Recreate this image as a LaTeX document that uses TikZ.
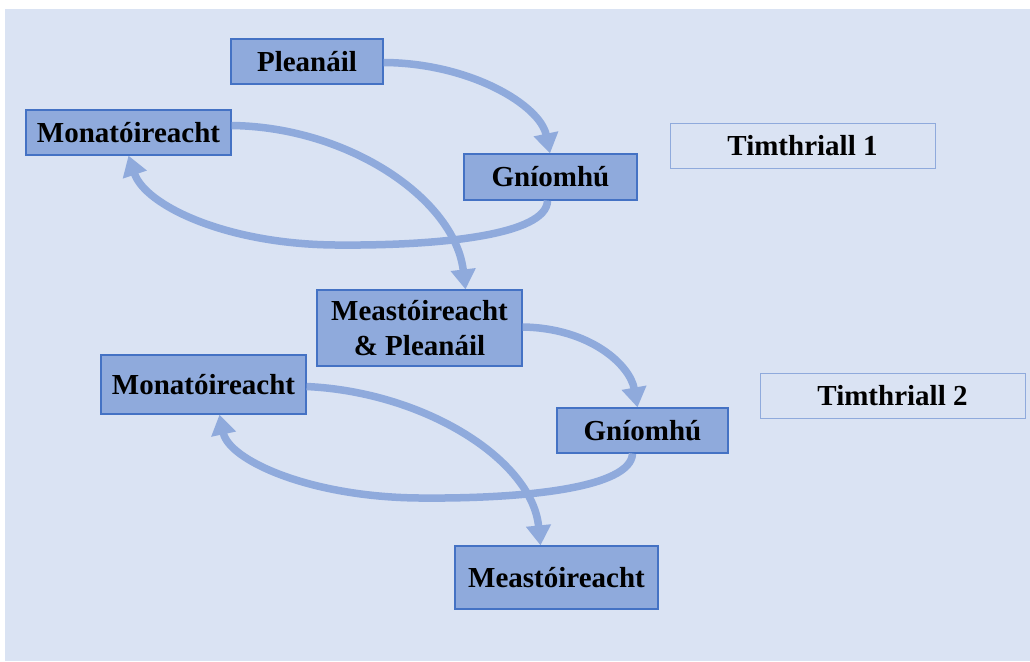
\documentclass[tikz,border=0pt]{standalone}
\usepackage{fontspec}
\setmainfont{Liberation Serif}
\usetikzlibrary{arrows.meta,calc}
\definecolor{bgblue}{HTML}{DAE3F3}
\definecolor{boxfill}{HTML}{8FAADC}
\definecolor{boxline}{HTML}{4472C4}
\definecolor{flow}{HTML}{8FAADC}
\tikzset{
  stage/.style={draw=boxline, line width=1.2pt, fill=boxfill, inner sep=0pt,
    font=\fontsize{29}{33}\selectfont\bfseries, text=black, align=center},
  cyclelabel/.style={draw=boxfill, line width=1pt, fill=bgblue, inner sep=0pt,
    font=\fontsize{29}{33}\selectfont\bfseries, text=black,
    minimum width=265pt, minimum height=45pt},
  flowarrow/.style={draw=flow, line width=7.5pt,
    -{Triangle[width=24pt,length=20pt]}}
}
\begin{document}
\begin{tikzpicture}[x=1pt,y=-1pt]
  \useasboundingbox (0,0) rectangle (1030,661);
  \fill[bgblue] (5,9) rectangle (1030,661);

  % first cycle
  \node[stage, minimum width=152pt, minimum height=45pt] (pl1) at (307,61.5) {Pleanáil};
  \node[stage, minimum width=205pt, minimum height=45pt] (mo1) at (128.5,132.5) {Monatóireacht};
  \node[stage, minimum width=173pt, minimum height=46pt] (gn1) at (550.5,177) {Gníomhú};
  \node[cyclelabel] (c1) at (802.5,145.5) {Timthriall 1};

  % second cycle
  \node[stage, minimum width=205pt, minimum height=76pt] (mp) at (419.5,328) {Meastóireacht\\[2pt]\& Pleanáil};
  \node[stage, minimum width=205pt, minimum height=59pt] (mo2) at (203.5,384.5) {Monatóireacht};
  \node[stage, minimum width=171pt, minimum height=45pt] (gn2) at (642.5,430.5) {Gníomhú};
  \node[cyclelabel] (c2) at (892.5,395.5) {Timthriall 2};
  \node[stage, minimum width=203pt, minimum height=63pt] (me) at (556.5,577.5) {Meastóireacht};

  % connectors of the first cycle
  \draw[flowarrow] ([yshift=-1pt]pl1.east) .. controls (470,63) and (540,105) .. ([xshift=-0.5pt]gn1.north);
  \draw[flowarrow] ([xshift=-3pt]gn1.south) .. controls (547,235) and (440,246) .. (335,245)
                   .. controls (225,244) and (145,205) .. ([xshift=0pt]mo1.south);
  \draw[flowarrow] ([yshift=7pt]mo1.east) .. controls (350,127) and (455,200) .. ([xshift=46pt]mp.north);

  % connectors of the second cycle
  \draw[flowarrow] ([yshift=1pt]mp.east) .. controls (590,328) and (630,365) .. ([xshift=-5pt]gn2.north);
  \draw[flowarrow] ([xshift=-10pt]gn2.south) .. controls (631,488) and (524,499) .. (419,498)
                   .. controls (309,497) and (229,460) .. ([xshift=16pt]mo2.south);
  \draw[flowarrow] ([yshift=-2pt]mo2.east) .. controls (425,392) and (532,460) .. ([xshift=-16pt]me.north);
\end{tikzpicture}
\end{document}
